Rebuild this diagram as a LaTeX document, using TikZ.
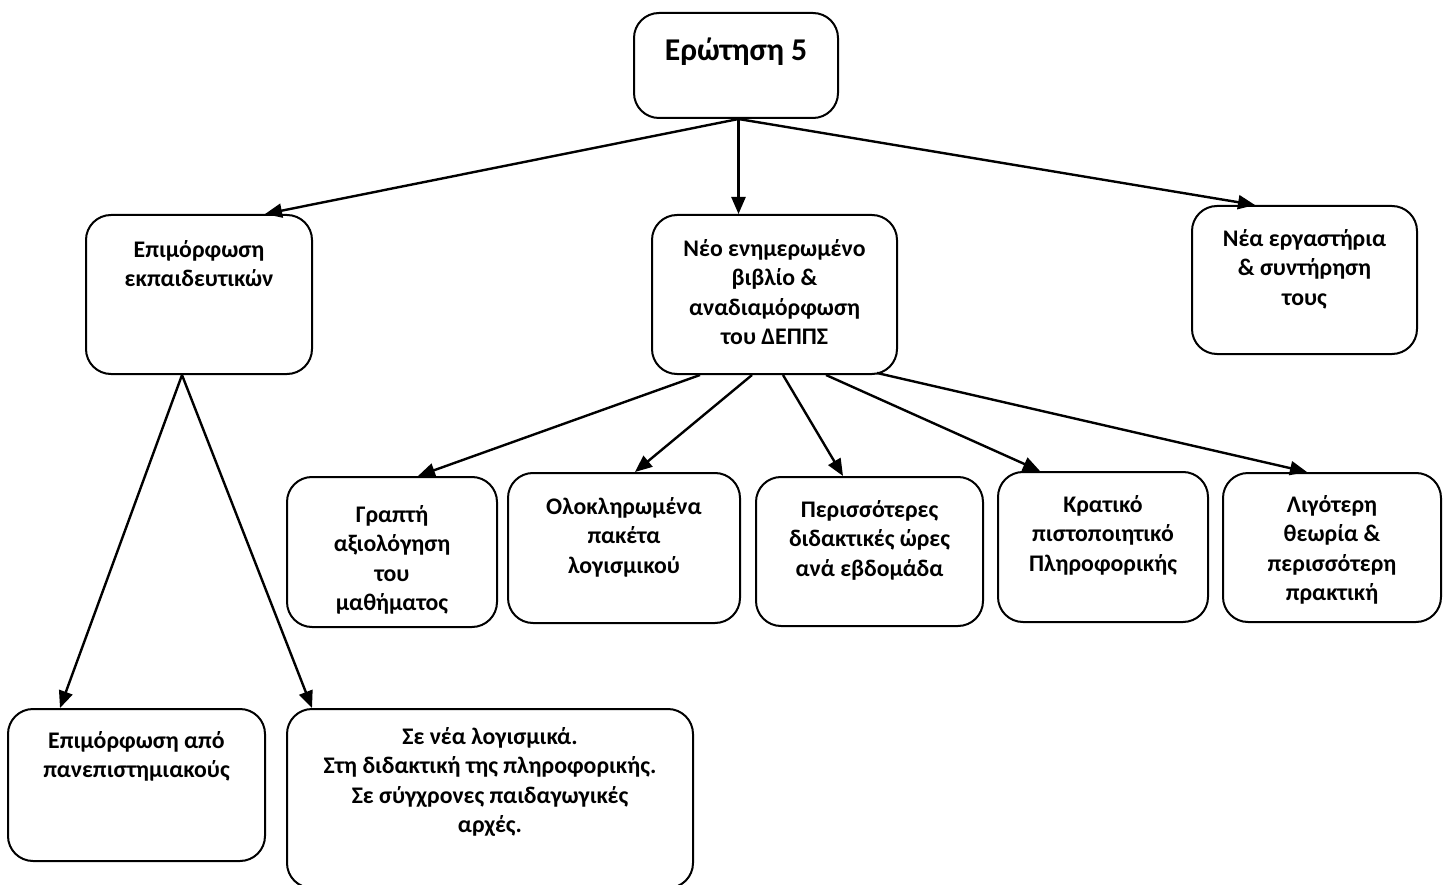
\documentclass[tikz,border=0pt]{standalone}
\usepackage{fontspec}
\setmainfont{Carlito}
\usetikzlibrary{arrows.meta}
% zero-width strut that sets the distance from a box's top edge to the first baseline
\newcommand\toppad[1]{\rule{0pt}{#1}}
\begin{document}
\begin{tikzpicture}[x=1pt,y=-1pt,
  box/.style 2 args={draw=black, line width=2pt, rounded corners=25pt,
    inner sep=0pt, minimum width=#1, minimum height=#2},
  txt/.style={anchor=north, inner sep=0pt, align=center,
    font=\bfseries\fontsize{23.8pt}{29.5pt}\selectfont},
  bigtxt/.style={anchor=north, inner sep=0pt, align=center,
    font=\bfseries\fontsize{31.7pt}{37pt}\selectfont},
  arr/.style={draw=black, line width=2.4pt,
    -{Triangle[length=17pt,width=14pt]}}]
\useasboundingbox (0,0) rectangle (1443,885);

% boxes
\node[box={204pt}{105pt}] (q5)    at (736,65.5)   {};
\node[box={226pt}{159pt}] (epim)  at (199,294.5)  {};
\node[box={245pt}{159pt}] (neo)   at (774.5,294.5){};
\node[box={225pt}{148pt}] (erg)   at (1304.5,280) {};
\node[box={210pt}{150pt}] (graf)  at (392,552)    {};
\node[box={232pt}{150pt}] (olok)  at (624,548)    {};
\node[box={227pt}{149pt}] (peri)  at (869.5,551.5){};
\node[box={210pt}{150pt}] (krat)  at (1103,547)   {};
\node[box={218pt}{149pt}] (ligo)  at (1332,547.5) {};
\node[box={257pt}{152pt}] (panep) at (136.5,785)  {};
\node[box={406pt}{179pt}] (sene)  at (490,798.5)  {};

% texts, top-aligned inside their boxes
\node[bigtxt] (q5-t)    at (q5.north)    {\toppad{48pt}Ερώτηση 5};
\node[txt]    (epim-t)  at (epim.north)  {\toppad{43pt}Επιμόρφωση\\εκπαιδευτικών};
\node[txt]    (neo-t)   at (neo.north)   {\toppad{42pt}Νέο ενημερωμένο\\βιβλίο \&\\αναδιαμόρφωση\\του ΔΕΠΠΣ};
\node[txt]    (erg-t)   at (erg.north)   {\toppad{41pt}Νέα εργαστήρια\\\& συντήρηση\\τους};
\node[txt]    (graf-t)  at (graf.north)  {\toppad{46pt}Γραπτή\\αξιολόγηση\\του\\μαθήματος};
\node[txt]    (olok-t)  at (olok.north)  {\toppad{42pt}Ολοκληρωμένα\\πακέτα\\λογισμικού};
\node[txt]    (peri-t)  at (peri.north)  {\toppad{41pt}Περισσότερες\\διδακτικές ώρες\\ανά εβδομάδα};
\node[txt]    (krat-t)  at (krat.north)  {\toppad{41pt}Κρατικό\\πιστοποιητικό\\Πληροφορικής};
\node[txt]    (ligo-t)  at (ligo.north)  {\toppad{40pt}Λιγότερη\\θεωρία \&\\περισσότερη\\πρακτική};
\node[txt]    (panep-t) at (panep.north) {\toppad{40pt}Επιμόρφωση από\\πανεπιστημιακούς};
\node[txt]    (sene-t)  at (sene.north)  {\toppad{36pt}Σε νέα λογισμικά.\\Στη διδακτική της πληροφορικής.\\Σε σύγχρονες παιδαγωγικές\\αρχές.};

% connectors
\draw[arr] ([xshift=2.5pt]q5.south) -- ([xshift=66pt]epim.north);
\draw[arr] ([xshift=2.5pt]q5.south) -- ([xshift=-36pt]neo.north);
\draw[arr] ([xshift=2.5pt]q5.south) -- ([xshift=-49.5pt]erg.north);

\draw[arr] ([xshift=-17pt]epim.south) -- ([xshift=-76.5pt]panep.north);
\draw[arr] ([xshift=-17pt]epim.south) -- ([xshift=-178pt]sene.north);

\draw[arr] ([xshift=-74.5pt]neo.south) -- ([xshift=26pt]graf.north);
\draw[arr] ([xshift=-22.5pt]neo.south) -- ([xshift=11pt]olok.north);
\draw[arr] ([xshift=8.5pt]neo.south)   -- ([xshift=-26.5pt]peri.north);
\draw[arr] ([xshift=51.5pt]neo.south)  -- ([xshift=-63pt]krat.north);
\draw[arr] ([xshift=102.5pt,yshift=2pt]neo.south) -- ([xshift=-25pt]ligo.north);
\end{tikzpicture}
\end{document}
